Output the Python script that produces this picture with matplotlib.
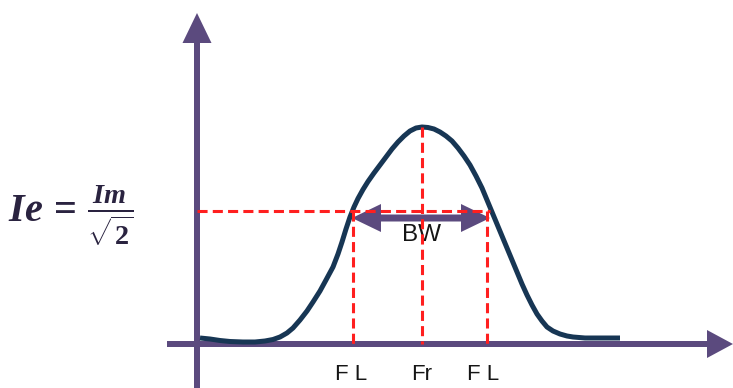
import matplotlib
matplotlib.use("Agg")
import matplotlib.pyplot as plt

# Resonance curve (pixel-like coordinates, y grows downward)
curve_x = [200, 210, 220, 230, 243, 255, 265, 273, 280, 287, 293, 300, 307, 313,
           320, 326, 333, 338, 342, 346, 350, 354, 358, 363, 368, 374, 380, 386,
           392, 398, 404, 410, 416, 422, 428, 434, 440, 446, 452, 458, 464, 470,
           476, 482, 487, 492, 497, 502, 507, 512, 517, 522, 527, 532, 537, 542,
           547, 553, 560, 567, 573, 585, 600, 620]
curve_y = [338, 339, 340.5, 341.5, 342, 342, 341, 339.5, 337, 333, 328, 320, 311, 302,
           291, 280, 267, 254, 242, 229, 217, 207, 198.5, 189.5, 181.5, 173, 165, 157,
           149, 142, 136, 131, 128, 127, 127.5, 129, 132, 136, 141, 148, 156, 165,
           176, 188, 200, 212, 224, 236, 248, 260, 272, 284, 295, 305, 314, 321,
           327, 331, 334, 336, 337, 338, 338, 338]

# Half-power level and band-edge frequencies
half_power_y = 211
peak_y = 127
axis_y = 344
axis_x = 197
f_positions = [353, 422, 487]
f_labels = ["F L", "Fr", "F L"]
bw_edges = [352, 490]
bw_y = 218

AXIS_COLOR = "#5b4a7e"
CURVE_COLOR = "#173654"
RED = "#ff1f1f"

plt.rcParams["mathtext.fontset"] = "custom"
plt.rcParams["mathtext.it"] = "Liberation Serif:bold:italic"
plt.rcParams["mathtext.rm"] = "Liberation Serif:bold"
plt.rcParams["mathtext.bf"] = "Liberation Serif:bold"

fig = plt.figure(figsize=(7.33, 3.88), dpi=100)
ax = fig.add_axes([0, 0, 1, 1])
ax.set_xlim(0, 733)
ax.set_ylim(388, 0)
ax.axis("off")

# Axes with arrowheads
ax.arrow(axis_x, 388, 0, 13 - 388, width=6, head_width=29, head_length=30,
         length_includes_head=True, color=AXIS_COLOR, zorder=2, lw=0)
ax.arrow(167, axis_y, 733 - 167, 0, width=6, head_width=28, head_length=26,
         length_includes_head=True, color=AXIS_COLOR, zorder=2, lw=0)

# Response curve
ax.plot(curve_x, curve_y, color=CURVE_COLOR, lw=3.6, solid_capstyle="butt",
        solid_joinstyle="round", zorder=3)

# Bandwidth double arrow
bw_mid = (bw_edges[0] + bw_edges[1]) / 2
for end in bw_edges:
    ax.arrow(bw_mid, bw_y, end - bw_mid, 0, width=7, head_width=28, head_length=29,
             length_includes_head=True, color=AXIS_COLOR, zorder=4, lw=0)

ax.text(bw_mid, 235, "BW", ha="center", va="center", fontsize=17.5,
        family="Liberation Sans", color="#151515", zorder=5)

# Red dashed guide lines
dash = dict(color=RED, lw=2.2, dashes=(3.3, 1.7), zorder=6)
ax.plot([axis_x, bw_edges[1]], [half_power_y, half_power_y], **dash)
for i, xf in enumerate(f_positions):
    top = peak_y if i == 1 else half_power_y
    ax.plot([xf, xf], [top, axis_y], **dash)

# Frequency labels
label_x = [351, 422, 483]
for xl, lab in zip(label_x, f_labels):
    ax.text(xl, 374, lab, ha="center", va="center", fontsize=16,
            family="Liberation Sans", color="#151515")

# Half-power current formula
ax.text(8, 216, r"$Ie\,=\,\frac{Im}{\sqrt{2}}$", ha="left", va="center",
        fontsize=29, color="#2a2340")

fig.savefig("out.png", dpi=100)
